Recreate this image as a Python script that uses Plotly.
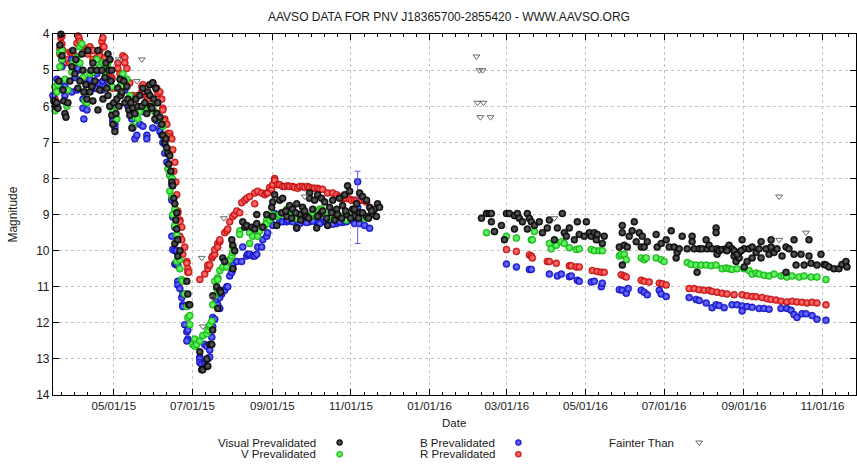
import numpy as np
import pandas as pd
import plotly.graph_objects as go

W, H = 857, 467
JD_OFFSET = 2457000.0
TITLE = "AAVSO DATA FOR PNV J18365700-2855420 - WWW.AAVSO.ORG"

# ---------------- observations (JD - 2457000, magnitude) ----------------
vis_jd = [
    96.9, 97.8, 99.3, 100.1, 100.9, 101.6, 102.4, 103.2, 104.0, 104.7,
    105.5, 106.3, 107.8, 109.4, 110.9, 111.7, 113.3, 114.0, 115.6, 117.1,
    118.7, 119.5, 120.2, 121.8, 122.6, 123.3, 124.9, 125.7, 126.4, 127.2,
    127.2, 128.8, 130.3, 131.1, 131.1, 132.6, 134.2, 135.0, 136.5, 137.3,
    138.1, 138.9, 138.9, 139.6, 140.4, 140.4, 141.2, 141.9, 141.9, 142.7,
    143.5, 144.3, 145.1, 145.8, 146.6, 147.4, 148.2, 148.9, 149.7, 151.3,
    152.0, 153.6, 154.4, 155.1, 155.9, 156.7, 157.5, 158.2, 159.8, 160.6,
    162.1, 163.7, 165.2, 166.0, 167.5, 169.1, 169.9, 171.4, 171.4, 172.2,
    173.0, 173.7, 174.5, 175.3, 176.1, 176.8, 177.6, 179.2, 180.7, 181.5,
    183.0, 183.8, 184.6, 185.4, 186.1, 186.9, 187.7, 188.5, 189.2, 190.0,
    190.8, 190.8, 191.6, 192.3, 192.3, 193.1, 193.1, 194.7, 200.1, 200.9,
    201.6, 202.4,
    210.2, 211.7, 212.5, 215.6, 215.6, 216.4, 217.9, 219.5, 220.2, 220.2,
    223.3, 224.1, 225.7, 226.4, 228.0, 229.5, 235.8, 235.8, 235.0, 237.3,
    243.5, 245.1, 246.6, 250.5, 252.8, 254.4, 254.4, 259.0, 262.1, 266.0,
    266.8, 268.3,
    269.9, 272.2, 274.5, 273.7, 279.9, 282.3, 285.4, 285.4, 290.0, 295.4,
    295.4, 299.3, 301.6, 304.7, 307.1, 300.9, 309.4, 310.9, 313.3, 316.4,
    318.7, 322.6, 324.9, 326.5, 321.0, 324.1, 328.8, 331.9, 334.2, 336.5,
    339.6, 342.0, 345.8, 348.2, 349.7, 344.3, 339.6, 334.2, 330.3, 314.8,
    303.2, 293.1, 287.7, 277.7, 266.8, 276.9, 281.5, 284.6, 288.5, 291.6,
    294.7, 297.8, 301.6, 305.5, 308.6, 312.5, 317.1, 320.3, 323.3, 327.2,
    330.3, 333.4, 336.5, 341.1, 343.5, 347.3,
    428.8, 432.7, 435.0, 436.5, 436.5, 438.9, 444.3, 446.6, 448.2, 450.5,
    454.4, 454.4, 456.7, 458.2, 460.6, 464.4, 464.4, 466.0, 467.5, 469.9,
    473.7, 476.1, 479.9, 481.5, 485.4, 487.7, 491.6, 493.1, 494.7, 497.0,
    500.9, 503.2, 504.7, 508.6, 510.2, 512.5, 514.0, 516.4, 517.9, 518.7,
    522.6, 524.1, 535.8, 538.1, 538.1, 538.1, 539.6, 542.0, 543.5, 545.8,
    547.4, 548.9, 551.3, 552.8, 553.6, 555.1, 557.5, 564.4, 565.2, 568.3,
    572.2, 574.5, 576.1, 578.4, 579.9, 580.7, 582.3, 584.6, 588.5, 592.3,
    592.3, 593.9, 596.2, 597.8, 600.1, 603.2, 604.0, 605.5, 607.8, 610.9,
    610.9, 611.7, 611.7, 613.3, 615.6, 618.6, 621.0, 623.3, 624.9, 626.4,
    628.8, 628.8, 631.1, 632.7, 632.7, 635.0, 636.5, 638.9, 638.9, 642.0,
    644.3, 645.8, 645.8, 649.7, 652.0, 653.6, 653.6, 655.9, 658.2, 662.1,
    665.2, 665.2, 667.5, 671.4, 671.4, 673.0, 676.8, 679.2, 683.0, 683.0,
    684.6, 689.2, 692.3, 694.7, 696.2, 698.5, 702.4, 706.3, 708.6, 711.7,
    712.5, 624.9, 627.2, 630.3, 619.4,
]
vis_mag = [
    5.85, 6.00, 5.90, 6.05, 5.30, 4.30, 4.00, 4.60, 5.55, 5.85,
    6.20, 6.30, 5.90, 5.30, 4.90, 4.45, 5.10, 4.70, 5.50, 5.30,
    4.55, 5.00, 5.60, 5.40, 5.80, 4.45, 5.60, 5.00, 5.45, 4.80,
    5.85, 5.30, 5.00, 4.45, 6.10, 5.55, 5.00, 5.80, 5.20, 4.80,
    5.50, 4.55, 5.70, 5.00, 4.70, 6.00, 5.30, 5.00, 6.25, 6.50,
    5.90, 6.70, 6.20, 5.80, 5.50, 6.00, 5.25, 5.70, 5.60, 5.30,
    5.90, 5.45, 5.80, 6.10, 6.25, 5.90, 6.60, 6.05, 6.20, 5.80,
    6.00, 5.70, 6.00, 5.50, 5.90, 6.20, 5.60, 5.40, 5.70, 6.00,
    6.05, 5.35, 5.80, 6.35, 5.50, 6.20, 5.90, 6.30, 6.50, 6.80,
    7.00, 6.90, 7.15, 7.30, 7.60, 7.37, 7.80, 8.10, 8.20, 8.55,
    8.70, 9.80, 9.15, 8.95, 9.40, 9.70, 10.15, 10.00, 10.85, 11.20,
    11.50, 11.50,
    12.80, 13.30, 13.30, 13.20, 13.00, 13.20, 12.60, 12.60, 12.20, 11.25,
    11.00, 11.60, 11.10, 11.15, 10.20, 10.30, 10.50, 9.85, 9.70, 10.00,
    9.20, 9.35, 9.30, 9.35, 9.40, 9.25, 9.00, 9.35, 9.00, 8.80,
    8.65, 8.45,
    9.30, 8.60, 8.55, 8.95, 8.75, 8.85, 8.70, 9.37, 8.80, 8.40,
    8.55, 8.60, 8.45, 8.55, 8.65, 9.37, 9.30, 8.80, 8.60, 8.85,
    8.55, 8.45, 8.20, 8.35, 8.75, 9.00, 8.85, 8.70, 8.40, 8.50,
    8.60, 8.80, 8.85, 8.70, 8.80, 9.00, 9.05, 8.95, 9.05, 9.15,
    9.00, 9.05, 9.00, 9.05, 9.05, 8.90, 9.10, 8.95, 9.15, 8.90,
    9.10, 8.85, 9.05, 8.90, 9.10, 8.95, 9.00, 9.10, 8.90, 9.10,
    8.85, 9.10, 8.95, 9.10, 8.90, 9.05,
    9.10, 8.97, 8.97, 8.97, 9.20, 9.47, 9.30, 9.70, 8.97, 8.97,
    9.40, 9.03, 8.97, 9.10, 9.20, 8.97, 9.40, 9.10, 9.20, 9.30,
    9.20, 9.50, 9.37, 9.15, 9.70, 9.37, 8.97, 9.50, 9.60, 9.37,
    9.70, 9.20, 9.55, 9.60, 9.20, 9.50, 9.60, 9.50, 9.70, 9.55,
    9.80, 9.60, 9.90, 9.30, 9.50, 10.40, 9.85, 9.90, 9.60, 9.45,
    9.20, 9.75, 9.50, 9.90, 9.60, 9.90, 9.75, 9.55, 9.90, 9.80,
    9.70, 9.90, 9.45, 9.90, 10.20, 10.05, 9.95, 9.60, 9.95, 9.60,
    9.75, 9.95, 10.60, 9.95, 9.95, 9.70, 9.95, 9.85, 9.95, 9.37,
    9.50, 9.95, 10.10, 10.00, 9.97, 9.95, 9.85, 9.95, 10.15, 10.30,
    10.05, 10.20, 9.70, 9.95, 10.45, 10.30, 9.95, 9.90, 10.20, 10.05,
    9.95, 9.75, 10.20, 9.95, 10.10, 9.70, 9.90, 10.05, 9.95, 10.15,
    9.90, 10.60, 9.95, 9.70, 10.10, 10.40, 10.10, 10.40, 9.70, 10.15,
    10.35, 10.40, 10.10, 10.38, 10.40, 10.45, 10.50, 10.50, 10.38, 10.30,
    10.45, 10.00, 10.10, 10.00, 10.00,
]

v_jd = [
    97.6, 97.8, 99.3, 99.3, 100.1, 101.6, 101.6, 103.2, 103.2, 105.5,
    107.1, 107.8, 110.9, 111.7, 114.8, 117.1, 117.1, 118.7, 119.5, 121.0,
    121.0, 122.6, 124.9, 127.2, 127.2, 130.3, 132.6, 135.0, 136.5, 138.1,
    138.9, 140.4, 141.9, 141.9, 142.7, 145.8, 148.2, 149.7, 149.7, 150.5,
    153.6, 155.9, 157.5, 158.2, 159.8, 162.1, 163.7, 169.1, 169.9, 171.4,
    175.3, 176.8, 176.8, 179.2, 181.5, 183.0, 184.6, 185.4, 186.9, 186.9,
    188.5, 188.5, 189.2, 190.8, 190.8, 192.3, 192.3, 194.7, 194.7, 196.2,
    197.0, 198.5, 200.1, 200.9, 202.4, 202.4, 204.7, 206.3, 206.3, 207.8,
    210.2, 212.5, 215.6, 216.4, 217.9, 217.9, 219.5, 220.2, 221.8, 221.8,
    223.3, 224.1, 224.1, 225.7, 228.0, 231.1, 231.1, 233.4, 235.0, 235.8,
    235.8, 241.2, 241.2, 248.9, 248.9, 251.3, 255.1, 256.7, 260.6, 262.1,
    262.1, 264.4, 266.0, 266.8,
    269.9, 272.2, 277.7, 277.7, 278.4, 282.3, 287.7, 293.1, 297.8, 303.2,
    304.7, 308.6, 313.3, 320.3, 324.1, 332.7, 334.2, 336.5, 338.1, 279.9,
    285.4, 290.0, 295.4, 300.9, 310.9, 316.4, 328.8, 330.3,
    432.7, 438.9, 448.2, 455.9, 467.5, 468.3, 469.9, 481.5, 483.0, 486.9,
    490.8, 493.1, 497.0, 502.4, 504.7, 514.0, 516.4, 520.2, 522.6, 535.8,
    537.3, 539.6, 541.2, 552.8, 555.1, 556.7, 564.4, 568.3, 570.6, 588.5,
    591.5, 595.4, 599.3, 603.2, 607.1, 610.9, 615.6, 618.7, 621.0, 623.3,
    627.2, 632.7, 636.5, 638.9, 642.0, 644.3, 648.1, 652.0, 655.9, 661.3,
    663.7, 665.9, 669.9, 675.3, 679.2, 684.6, 689.2, 696.2,
]
v_mag = [
    5.45, 6.12, 5.95, 5.60, 5.40, 4.50, 4.90, 4.45, 4.70, 5.25,
    6.00, 5.55, 5.05, 4.80, 4.65, 4.35, 4.80, 4.27, 5.20, 5.60,
    5.85, 5.90, 5.10, 5.00, 5.05, 4.70, 4.90, 4.80, 5.05, 4.85,
    4.80, 6.00, 5.45, 6.00, 6.15, 6.35, 5.70, 5.35, 5.45, 5.10,
    5.25, 5.70, 6.05, 6.55, 6.30, 6.35, 6.15, 6.05, 6.10, 6.00,
    6.15, 5.90, 6.20, 6.35, 6.55, 6.85, 7.20, 7.73, 7.90, 8.35,
    8.00, 8.50, 9.00, 8.85, 9.30, 9.55, 10.30, 10.25, 10.50, 10.80,
    10.85, 11.20, 11.55, 11.85, 11.80, 12.05, 12.60, 12.45, 12.65, 12.60,
    12.50, 12.35, 12.30, 12.20, 12.10, 12.05, 11.95, 11.50, 11.25, 10.85,
    11.05, 10.75, 10.80, 10.55, 10.45, 10.35, 10.45, 10.25, 10.15, 10.05,
    9.90, 9.45, 9.55, 9.50, 9.80, 9.60, 9.60, 9.45, 9.30, 9.15,
    9.25, 9.15, 9.07, 9.00,
    9.05, 9.00, 8.95, 8.85, 8.95, 9.05, 9.00, 9.00, 9.00, 8.85,
    8.85, 9.00, 9.05, 9.05, 9.15, 8.95, 9.05, 9.00, 9.10, 9.05,
    9.10, 9.05, 9.08, 9.05, 9.10, 9.05, 9.05, 8.90,
    9.50, 9.47, 9.60, 9.65, 9.70, 9.70, 9.47, 9.80, 9.95, 9.85,
    9.75, 9.80, 9.92, 9.97, 9.95, 9.97, 10.00, 10.00, 10.00, 10.15,
    10.10, 10.10, 10.25, 10.20, 10.25, 10.20, 10.20, 10.25, 10.30, 10.33,
    10.38, 10.40, 10.40, 10.40, 10.42, 10.40, 10.50, 10.48, 10.50, 10.52,
    10.50, 10.50, 10.55, 10.65, 10.62, 10.65, 10.68, 10.70, 10.65, 10.70,
    10.68, 10.73, 10.70, 10.73, 10.70, 10.73, 10.73, 10.80,
]

b_jd = [
    96.2, 99.3, 99.3, 103.2, 103.2, 104.0, 105.5, 105.5, 110.9, 110.9,
    113.3, 114.8, 115.6, 115.6, 118.7, 119.5, 119.5, 120.2, 122.6, 122.6,
    124.9, 126.4, 128.8, 130.3, 130.3, 131.1, 134.2, 135.0, 136.5, 138.1,
    138.9, 141.9, 142.7, 142.7, 142.7, 144.3, 144.3, 148.2, 149.7, 150.5,
    152.0, 154.4, 157.5, 158.2, 159.8, 161.3, 163.7, 166.0, 166.0, 169.1,
    169.1, 173.7, 176.8, 179.2, 179.2, 180.7, 181.5, 183.0, 183.0, 184.6,
    186.9, 188.5, 188.5, 188.5, 188.5, 189.2, 190.8, 188.5, 189.2, 190.8,
    192.3, 190.8, 192.3, 193.1, 193.1, 193.1, 194.7, 196.2, 197.0, 197.0,
    197.0, 198.5, 200.1, 200.9, 200.9, 200.1,
    210.2, 210.2, 210.2, 211.7, 214.0, 214.0, 215.6, 216.4, 217.9, 217.9,
    219.5, 220.2, 220.2, 221.8, 223.3, 224.1, 225.7, 225.7, 227.2, 229.5,
    231.1, 231.9, 233.4, 235.0, 235.8, 235.8, 238.9, 242.7, 243.5, 246.6,
    247.4, 248.9, 251.3, 252.8, 254.4, 255.1, 258.2, 259.0, 262.1, 262.9,
    266.0, 266.8, 268.3, 269.9,
    272.2, 274.5, 277.7, 278.4, 282.3, 285.4, 290.0, 295.4, 300.9, 305.5,
    310.9, 316.4, 321.0, 326.5, 330.3, 334.2, 338.1, 342.0, 287.7, 293.1,
    297.8, 303.2, 308.6, 313.3, 318.7, 324.1, 332.7,
    448.2, 455.9, 466.0, 467.5, 481.5, 487.7, 490.8, 497.0, 498.5, 503.2,
    504.7, 514.0, 516.4, 521.8, 522.6, 535.8, 538.1, 541.2, 542.7, 552.8,
    555.1, 557.5, 566.8, 568.3, 572.2, 590.0, 595.4, 597.8, 603.2, 607.8,
    610.9, 613.3, 617.2, 623.3, 627.2, 631.1, 631.1, 635.0, 638.9, 644.3,
    648.1, 652.0, 661.3, 665.9, 669.1, 671.4, 673.7, 677.6, 680.7, 685.4,
    689.2, 696.2,
]
b_mag = [
    5.70, 5.25, 5.50, 4.90, 4.70, 5.45, 5.70, 5.45, 4.70, 5.60,
    5.20, 5.55, 5.00, 4.95, 5.25, 5.80, 6.05, 6.35, 5.35, 6.10,
    5.25, 5.45, 5.50, 5.10, 5.50, 5.35, 5.55, 5.30, 5.45, 5.25,
    5.00, 6.00, 6.20, 6.35, 6.40, 6.50, 6.60, 5.45, 5.20, 5.25,
    5.55, 6.00, 6.35, 6.60, 6.90, 6.80, 6.50, 6.15, 6.55, 6.80,
    6.90, 6.60, 6.40, 6.60, 6.70, 6.80, 7.00, 7.05, 7.30, 7.55,
    7.90, 8.00, 8.17, 8.55, 8.60, 9.07, 9.35, 9.60, 9.97, 10.00,
    10.00, 10.37, 10.40, 10.40, 10.85, 10.95, 11.05, 11.30, 11.20, 11.50,
    11.55, 12.05, 12.25, 12.20, 12.45, 12.50,
    12.95, 13.00, 13.10, 13.15, 13.15, 12.60, 12.65, 13.00, 12.75, 12.95,
    12.40, 12.10, 11.85, 11.90, 11.40, 11.50, 11.30, 11.60, 11.20, 11.10,
    11.00, 11.00, 10.70, 10.60, 10.50, 10.40, 10.30, 10.30, 9.90, 10.15,
    10.10, 10.10, 10.15, 10.15, 10.10, 9.90, 9.90, 9.70, 9.60, 9.50,
    9.25, 9.30, 8.97, 9.00,
    9.20, 9.20, 9.20, 9.15, 9.20, 9.37, 9.20, 9.20, 9.22, 9.20,
    9.22, 9.25, 9.22, 9.15, 9.25, 9.25, 9.30, 9.38, 9.25, 9.22,
    9.18, 9.25, 9.20, 9.27, 9.20, 9.20, 8.09,
    10.37, 10.45, 10.52, 10.52, 10.65, 10.70, 10.65, 10.72, 10.70, 10.82,
    10.85, 10.87, 10.85, 11.00, 10.90, 11.08, 11.10, 11.18, 11.05, 11.10,
    11.15, 11.22, 11.10, 11.20, 11.27, 11.30, 11.35, 11.38, 11.45, 11.58,
    11.50, 11.52, 11.58, 11.50, 11.50, 11.53, 11.67, 11.55, 11.57, 11.60,
    11.60, 11.62, 11.60, 11.60, 11.65, 11.77, 11.85, 11.75, 11.75, 11.80,
    11.90, 11.93,
]

# single B estimate carrying a large uncertainty
b_err_jd = [332.7]
b_err_mag = [8.80]
b_err_sigma = [1.00]

r_jd = [
    97.0, 97.8, 101.6, 101.6, 102.4, 103.2, 103.2, 104.0, 105.5, 107.8,
    109.4, 109.4, 110.9, 111.7, 113.3, 113.3, 114.8, 115.6, 116.4, 117.1,
    118.7, 122.6, 123.3, 124.9, 126.4, 127.2, 127.2, 130.3, 132.6, 132.6,
    134.2, 135.0, 135.0, 135.8, 136.5, 138.9, 141.9, 141.9, 142.7, 146.6,
    146.6, 148.2, 150.5, 152.0, 152.0, 153.6, 155.9, 155.9, 158.2, 159.8,
    162.1, 165.2, 165.2, 166.0, 169.1, 169.9, 171.4, 173.7, 176.8, 176.8,
    177.6, 179.2, 180.7, 181.5, 181.5, 183.0, 183.0, 184.6, 185.4, 186.9,
    186.9, 188.5, 189.2, 190.0, 190.8, 191.6, 192.3, 193.1, 193.1, 194.7,
    194.7, 196.2, 194.7, 196.2, 197.0, 198.5, 200.1, 200.1, 200.9, 200.9,
    201.6,
    210.2, 214.0, 216.4, 216.4, 217.9, 219.5, 220.2, 221.8, 221.8, 224.1,
    224.1, 225.7, 225.7, 229.5, 231.1, 231.9, 233.4, 235.8, 237.3, 238.9,
    241.2, 242.7, 245.1, 246.6, 248.9, 252.8, 252.8, 255.1, 258.2, 260.6,
    262.1, 262.9, 264.4, 266.0, 266.8, 268.3, 268.3,
    270.6, 272.2, 274.5, 276.1, 278.4, 279.9, 282.3, 283.8, 286.2, 287.7,
    290.0, 291.6, 293.9, 295.4, 297.8, 299.3, 301.6, 303.2, 305.5, 309.4,
    313.3, 316.4, 318.7, 320.3, 322.6, 324.1, 326.5, 328.0, 330.3, 331.9,
    334.2, 335.8, 338.1, 339.6,
    448.2, 455.9, 466.0, 467.5, 468.3, 479.9, 481.5, 486.9, 497.0, 498.5,
    502.4, 504.7, 514.8, 518.7, 521.8, 524.1, 537.3, 539.6, 541.2, 552.8,
    555.1, 559.0, 566.8, 569.1, 572.2, 590.0, 593.9, 597.8, 601.6, 605.5,
    607.8, 611.7, 615.6, 619.4, 624.9, 631.1, 635.0, 638.9, 642.0, 646.6,
    650.5, 653.6, 657.4, 661.3, 665.9, 669.9, 673.7, 677.6, 681.5, 685.4,
    689.2, 696.2,
]
r_mag = [
    5.75, 5.80, 4.40, 4.55, 4.10, 4.05, 4.27, 4.45, 4.80, 4.70,
    4.50, 4.80, 4.50, 4.60, 4.60, 4.85, 4.25, 4.05, 4.10, 4.20,
    4.35, 4.40, 4.55, 4.35, 4.45, 4.70, 4.45, 4.65, 4.45, 4.60,
    4.20, 4.10, 4.35, 4.35, 4.65, 5.20, 5.20, 5.25, 5.50, 4.80,
    4.95, 5.10, 4.60, 4.65, 4.80, 4.95, 5.35, 5.80, 5.70, 5.80,
    5.70, 5.45, 5.60, 5.40, 5.75, 5.80, 5.40, 5.35, 5.50, 5.55,
    5.65, 5.60, 5.80, 6.05, 6.10, 6.35, 6.40, 6.50, 6.75, 6.75,
    6.85, 6.90, 7.20, 7.80, 7.55, 8.10, 8.45, 8.90, 8.95, 9.15,
    9.20, 9.35, 9.60, 9.70, 10.10, 9.90, 10.30, 10.35, 10.50, 10.60,
    10.60,
    10.80, 10.65, 10.50, 10.40, 10.40, 10.20, 10.15, 10.10, 9.97, 9.80,
    9.90, 9.75, 9.70, 9.50, 9.45, 9.40, 9.20, 9.05, 9.00, 8.90,
    8.95, 8.67, 8.60, 8.55, 8.50, 8.70, 8.40, 8.35, 8.40, 8.45,
    8.40, 8.40, 8.25, 8.30, 8.17, 8.00, 8.05,
    8.17, 8.17, 8.22, 8.22, 8.20, 8.22, 8.22, 8.25, 8.27, 8.22,
    8.22, 8.25, 8.22, 8.25, 8.27, 8.27, 8.27, 8.30, 8.30, 8.40,
    8.40, 8.45, 8.50, 8.55, 8.55, 8.55, 8.57, 8.60, 8.60, 8.60,
    8.60, 8.60, 8.62, 8.65,
    9.97, 10.02, 10.12, 10.15, 10.20, 10.30, 10.30, 10.35, 10.42, 10.42,
    10.45, 10.45, 10.55, 10.58, 10.60, 10.60, 10.67, 10.70, 10.73, 10.82,
    10.85, 10.87, 10.90, 10.92, 10.95, 11.05, 11.05, 11.08, 11.10, 11.10,
    11.13, 11.15, 11.18, 11.20, 11.22, 11.22, 11.25, 11.27, 11.28, 11.30,
    11.33, 11.35, 11.37, 11.40, 11.42, 11.40, 11.42, 11.43, 11.45, 11.43,
    11.45, 11.50,
]

fainter_jd = [
    147.4, 165.2, 161.3, 211.7, 228.8, 212.5, 220.2, 291.6, 424.9, 427.2,
    429.6, 425.7, 430.3, 428.0, 435.8, 485.4, 659.8, 680.7, 659.8,
]
fainter_mag = [
    4.70, 4.70, 5.30, 10.20, 9.10, 12.10, 11.30, 8.50, 4.62, 5.00,
    5.00, 5.90, 5.90, 6.30, 6.30, 9.10, 8.50, 9.50, 9.70,
]

# ---------------- axes ----------------
x_start_jd, x_end_jd = 96.2, 719.5
mag_faint, mag_bright = 14, 4
mag_ticks = list(range(4, 15))

major_ticks = pd.date_range("2015-03-01", "2017-01-01", freq="2MS")
tick_text = [d.strftime("%m/%d/%y") for d in major_ticks]
minor_ticks = []
for a, b in zip(major_ticks[:-1], major_ticks[1:]):
    for k in range(1, 6):
        minor_ticks.append(a + (b - a) * k / 6)


def jd_to_datetime(jd):
    return pd.to_datetime(np.asarray(jd, dtype=float) + JD_OFFSET - 2440587.5, unit="D")


FONT = "Liberation Sans, Arial, Helvetica, sans-serif"
INK = "#1a1a1a"

# shaded-sphere point style: edge colour, highlight colour, outline
styles = {
    "Visual Prevalidated": dict(color="#050505", glow="#6e6e6e", line="#000000"),
    "V Prevalidated": dict(color="#14d814", glow="#8ef58e", line="#0b8f0b"),
    "B Prevalidated": dict(color="#1616e6", glow="#8484ff", line="#08088c"),
    "R Prevalidated": dict(color="#e81414", glow="#ff8a8a", line="#8c0808"),
}


def sphere_marker(name, size=7):
    st = styles[name]
    return dict(symbol="circle", size=size, color=st["color"],
                gradient=dict(type="radial", color=st["glow"]),
                line=dict(color=st["line"], width=0.5))


fainter_style = dict(symbol="triangle-down-open", size=6, color="#6a6a6a",
                     line=dict(color="#6a6a6a", width=1))

fig = go.Figure()

series = [
    ("R Prevalidated", r_jd, r_mag),
    ("B Prevalidated", b_jd, b_mag),
    ("V Prevalidated", v_jd, v_mag),
    ("Visual Prevalidated", vis_jd, vis_mag),
]
for name, jd, mag in series:
    fig.add_trace(go.Scatter(
        x=jd_to_datetime(jd), y=mag, mode="markers", name=name, showlegend=False,
        marker=sphere_marker(name), cliponaxis=False, hoverinfo="x+y+name",
    ))
    if name == "B Prevalidated":
        fig.add_trace(go.Scatter(
            x=jd_to_datetime(b_err_jd), y=b_err_mag, mode="markers", name=name, showlegend=False,
            marker=sphere_marker(name),
            error_y=dict(type="data", array=b_err_sigma, color="#5a5af0", thickness=1, width=3),
            cliponaxis=False,
        ))

fig.add_trace(go.Scatter(
    x=jd_to_datetime(fainter_jd), y=fainter_mag, mode="markers", name="Fainter Than",
    showlegend=False, marker=fainter_style, cliponaxis=False,
))

# ---------------- key below the plot (pixel frame overlay) ----------------
key_entries = [
    ("Visual Prevalidated", 318, 340, 449),
    ("V Prevalidated", 318, 340, 461),
    ("B Prevalidated", 498, 519, 449),
    ("R Prevalidated", 498, 519, 461),
    ("Fainter Than", 677, 700, 449),
]
annotations = []
for label, tx, mx, y in key_entries:
    annotations.append(dict(
        x=tx / W, y=1 - y / H, xref="paper", yref="paper", text=label, showarrow=False,
        xanchor="right", yanchor="middle", font=dict(family=FONT, size=11.5, color=INK),
    ))
    mk = fainter_style if label == "Fainter Than" else sphere_marker(label, size=6)
    fig.add_trace(go.Scatter(
        x=[mx], y=[y], xaxis="x2", yaxis="y2", mode="markers", marker=mk,
        showlegend=False, hoverinfo="skip", cliponaxis=False,
    ))

annotations += [
    dict(x=450 / W, y=1 - 10 / H, xref="paper", yref="paper", text=TITLE, showarrow=False,
         xanchor="center", yanchor="middle", font=dict(family=FONT, size=12, color=INK)),
    dict(x=455 / W, y=1 - 429 / H, xref="paper", yref="paper", text="Date", showarrow=False,
         xanchor="center", yanchor="middle", font=dict(family=FONT, size=11.5, color=INK)),
    dict(x=13 / W, y=1 - 214 / H, xref="paper", yref="paper", text="Magnitude", showarrow=False,
         textangle=-90, xanchor="center", yanchor="middle", font=dict(family=FONT, size=12, color=INK)),
]

grid = dict(showgrid=True, gridcolor="#c4c4c4", griddash="dot", gridwidth=1)

fig.update_layout(
    width=W, height=H, autosize=False,
    margin=dict(l=0, r=0, t=0, b=0),
    paper_bgcolor="white", plot_bgcolor="rgba(0,0,0,0)",
    showlegend=False,
    font=dict(family=FONT, color=INK),
    annotations=annotations,
    xaxis=dict(
        domain=[53 / W, 1.0], anchor="y", type="date",
        range=[jd_to_datetime([x_start_jd])[0], jd_to_datetime([x_end_jd])[0]],
        tickmode="array", tickvals=list(major_ticks), ticktext=tick_text,
        ticks="inside", ticklen=6, tickwidth=1, tickcolor="black",
        showline=True, linecolor="black", linewidth=1, mirror="ticks",
        zeroline=False, tickfont=dict(family=FONT, size=11.5, color=INK),
        minor=dict(tickmode="array", tickvals=minor_ticks, ticks="inside", ticklen=3,
                   tickcolor="black", showgrid=False),
        **grid,
    ),
    yaxis=dict(
        domain=[1 - 400 / H, 1 - 28 / H], anchor="x",
        range=[mag_faint, mag_bright], tickmode="array", tickvals=mag_ticks,
        ticks="inside", ticklen=6, tickwidth=1, tickcolor="black",
        showline=True, linecolor="black", linewidth=1, mirror="ticks",
        zeroline=False, tickfont=dict(family=FONT, size=12, color=INK),
        **grid,
    ),
    xaxis2=dict(domain=[0, 1], range=[0, W], visible=False, anchor="y2", fixedrange=True),
    yaxis2=dict(domain=[0, 1], range=[H, 0], visible=False, anchor="x2", fixedrange=True),
)

fig.write_html("out.html")
